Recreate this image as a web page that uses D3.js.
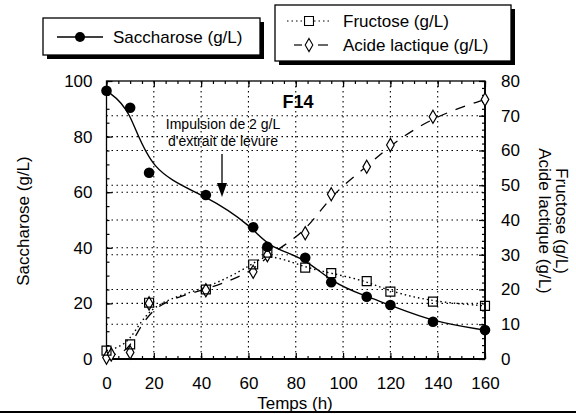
<!DOCTYPE html>
<html><head><meta charset="utf-8">
<script src="https://cdn.jsdelivr.net/npm/d3@7"></script>
<style>body{margin:0;background:#fff}svg{display:block}text{font-family:"Liberation Sans",Arial,sans-serif;fill:#000}</style>
</head><body>
<svg id="c" width="576" height="414"></svg>
<script>
// ---- data ----
const sacT = [0, 10, 18, 42, 62, 68, 84, 95, 110, 120, 138, 160];
const sacV = [96.5, 90.4, 67, 59, 47.4, 40.4, 36.4, 27.6, 22.4, 19.4, 13.4, 10.4];
const fruT = [0, 10, 18, 42, 62, 68, 84, 95, 110, 120, 138, 160];
const fruV = [2.4, 4.2, 16.2, 20, 27.2, 30.6, 26.3, 24.7, 22.4, 19.4, 16.5, 15.3];
const lacT = [0, 2, 10, 18, 42, 62, 68, 84, 95, 110, 120, 138, 160];
const lacV = [0.4, 1.3, 1.9, 16, 19.8, 25.1, 29.9, 36.2, 47.4, 55.3, 61.6, 69.7, 74.7];
const xTicks = [0, 20, 40, 60, 80, 100, 120, 140, 160];
const yLTicks = [0, 20, 40, 60, 80, 100];
const yRTicks = [0, 10, 20, 30, 40, 50, 60, 70, 80];

const svg = d3.select("#c");
const L = 106.5, R = 485, T = 81, B = 359;
const x = d3.scaleLinear().domain([0, 160]).range([L, R]);
const yL = d3.scaleLinear().domain([0, 100]).range([B, T]);
const yR = d3.scaleLinear().domain([0, 80]).range([B, T]);

// grid
const g = svg.append("g").attr("stroke", "#000").attr("stroke-width", 1.1).attr("stroke-dasharray", "1.5,3.5");
xTicks.slice(1, -1).forEach(t => g.append("line").attr("x1", x(t)).attr("x2", x(t)).attr("y1", T).attr("y2", B));
yLTicks.slice(1, -1).forEach(t => g.append("line").attr("x1", L).attr("x2", R).attr("y1", yL(t)).attr("y2", yL(t)));
yRTicks.slice(1, -1).forEach(t => g.append("line").attr("x1", L).attr("x2", R).attr("y1", yR(t)).attr("y2", yR(t)));

// axes
function styleAxis(sel) {
  sel.select(".domain").remove();
  sel.selectAll("line").attr("stroke", "#000").attr("stroke-width", 1.2);
  sel.selectAll("text").style("font-size", "17px");
}
const minorX = d3.range(0, 161, 5);
svg.append("g").attr("transform", `translate(0,${B})`)
  .call(d3.axisBottom(x).tickValues(minorX).tickSize(-3).tickFormat(""))
  .call(styleAxis);
svg.append("g").attr("transform", `translate(0,${B})`)
  .call(d3.axisBottom(x).tickValues(xTicks).tickSize(-6).tickPadding(18).tickFormat(d3.format("d")))
  .call(styleAxis);
svg.append("g").attr("transform", `translate(0,${T})`)
  .call(d3.axisTop(x).tickValues(minorX).tickSize(-3).tickFormat(""))
  .call(styleAxis);
svg.append("g").attr("transform", `translate(0,${T})`)
  .call(d3.axisTop(x).tickValues(xTicks).tickSize(-6).tickFormat(""))
  .call(styleAxis);
svg.append("g").attr("transform", `translate(${L},0)`)
  .call(d3.axisLeft(yL).tickValues(d3.range(0, 101, 5)).tickSize(-3).tickFormat(""))
  .call(styleAxis);
svg.append("g").attr("transform", `translate(${L},0)`)
  .call(d3.axisLeft(yL).tickValues(yLTicks).tickSize(-6).tickPadding(14).tickFormat(d3.format("d")))
  .call(styleAxis);
svg.append("g").attr("transform", `translate(${R},0)`)
  .call(d3.axisRight(yR).tickValues(d3.range(0, 81, 2)).tickSize(-3).tickFormat(""))
  .call(styleAxis);
svg.append("g").attr("transform", `translate(${R},0)`)
  .call(d3.axisRight(yR).tickValues(yRTicks).tickSize(-6).tickPadding(16).tickFormat(d3.format("d")))
  .call(styleAxis);

// frame
svg.append("rect").attr("x", L).attr("y", T).attr("width", R - L).attr("height", B - T)
  .attr("fill", "none").attr("stroke", "#000").attr("stroke-width", 1.3);
svg.append("line").attr("x1", L).attr("x2", R).attr("y1", B).attr("y2", B).attr("stroke", "#000").attr("stroke-width", 2.2);
svg.append("line").attr("x1", R).attr("x2", R).attr("y1", T).attr("y2", B).attr("stroke", "#000").attr("stroke-width", 1.8);

// lines
const sac = sacT.map((t, i) => [t, sacV[i]]);
const fru = fruT.map((t, i) => [t, fruV[i]]);
const lac = lacT.map((t, i) => [t, lacV[i]]);
const lineL = d3.line().x(d => x(d[0])).y(d => yL(d[1])).curve(d3.curveBasis);
const lineR = d3.line().x(d => x(d[0])).y(d => yR(d[1])).curve(d3.curveBasis);
svg.append("path").attr("d", lineR(fru)).attr("fill", "none").attr("stroke", "#000").attr("stroke-width", 1.4).attr("stroke-dasharray", "1.5,3");
svg.append("path").attr("d", lineR(lac)).attr("fill", "none").attr("stroke", "#000").attr("stroke-width", 1.3).attr("stroke-dasharray", "10,9");
svg.append("path").attr("d", lineL(sac)).attr("fill", "none").attr("stroke", "#000").attr("stroke-width", 1.4);

// markers
const sq = d3.symbol().type(d3.symbolSquare).size(80);
const dia = d3.symbol().type(d3.symbolDiamond).size(50);
svg.append("g").selectAll("path").data(lac).join("path")
  .attr("d", dia).attr("transform", d => `translate(${x(d[0])},${yR(d[1])})`)
  .attr("fill", "#fff").attr("stroke", "#000").attr("stroke-width", 1.2);
svg.append("g").selectAll("path").data(fru).join("path")
  .attr("d", sq).attr("transform", d => `translate(${x(d[0])},${yR(d[1])})`)
  .attr("fill", "none").attr("stroke", "#000").attr("stroke-width", 1.2);
svg.append("g").selectAll("circle").data(sac).join("circle")
  .attr("cx", d => x(d[0])).attr("cy", d => yL(d[1])).attr("r", 5.3).attr("fill", "#000");

// title + annotation
svg.append("text").attr("x", 298).attr("y", 108).attr("text-anchor", "middle")
  .style("font-size", "18px").style("font-weight", "bold").text("F14");
svg.append("text").attr("x", 223).attr("y", 129).attr("text-anchor", "middle").style("font-size", "14px").text("Impulsion de 2 g/L");
svg.append("text").attr("x", 223).attr("y", 146).attr("text-anchor", "middle").style("font-size", "14px").text("d'extrait de levure");
svg.append("line").attr("x1", 222).attr("x2", 222).attr("y1", 154).attr("y2", 186).attr("stroke", "#000").attr("stroke-width", 1.3);
svg.append("path").attr("d", "M217,183 L227,183 L222,197 Z").attr("fill", "#000");

// axis titles
svg.append("text").attr("transform", "translate(29,221) rotate(-90)").attr("text-anchor", "middle").style("font-size", "17px").text("Saccharose (g/L)");
svg.append("text").attr("transform", "translate(556,221) rotate(90)").attr("text-anchor", "middle").style("font-size", "17px").text("Fructose (g/L)");
svg.append("text").attr("transform", "translate(539,221) rotate(90)").attr("text-anchor", "middle").style("font-size", "17px").text("Acide lactique (g/L)");
svg.append("text").attr("x", 295).attr("y", 409).attr("text-anchor", "middle").style("font-size", "17px").text("Temps (h)");

// legends
function box(x0, y0, w, h) {
  svg.append("rect").attr("x", x0 + 4).attr("y", y0 + 4).attr("width", w).attr("height", h).attr("fill", "#000");
  svg.append("rect").attr("x", x0).attr("y", y0).attr("width", w).attr("height", h).attr("fill", "#fff").attr("stroke", "#000").attr("stroke-width", 1.3);
}
box(43, 18, 217, 37);
svg.append("line").attr("x1", 57).attr("x2", 103).attr("y1", 37).attr("y2", 37).attr("stroke", "#000").attr("stroke-width", 1.3);
svg.append("circle").attr("cx", 80).attr("cy", 37).attr("r", 5).attr("fill", "#000");
svg.append("text").attr("x", 113).attr("y", 43).style("font-size", "17px").text("Saccharose (g/L)");

box(275, 5, 236, 56);
svg.append("line").attr("x1", 287).attr("x2", 331).attr("y1", 21).attr("y2", 21).attr("stroke", "#000").attr("stroke-width", 1.2).attr("stroke-dasharray", "1.5,3");
svg.append("path").attr("d", sq).attr("transform", "translate(309,21)").attr("fill", "#fff").attr("stroke", "#000").attr("stroke-width", 1.1);
svg.append("text").attr("x", 343).attr("y", 27).style("font-size", "17px").text("Fructose (g/L)");
svg.append("line").attr("x1", 294).attr("x2", 302).attr("y1", 45).attr("y2", 45).attr("stroke", "#000").attr("stroke-width", 1.2);
svg.append("line").attr("x1", 318).attr("x2", 328).attr("y1", 45).attr("y2", 45).attr("stroke", "#000").attr("stroke-width", 1.2);
svg.append("path").attr("d", dia).attr("transform", "translate(309,45)").attr("fill", "#fff").attr("stroke", "#000").attr("stroke-width", 1.1);
svg.append("text").attr("x", 343).attr("y", 51).style("font-size", "17px").text("Acide lactique (g/L)");

// bottom page rule
svg.append("line").attr("x1", 0).attr("x2", 576).attr("y1", 412).attr("y2", 412).attr("stroke", "#000").attr("stroke-width", 2);
</script>
</body></html>
